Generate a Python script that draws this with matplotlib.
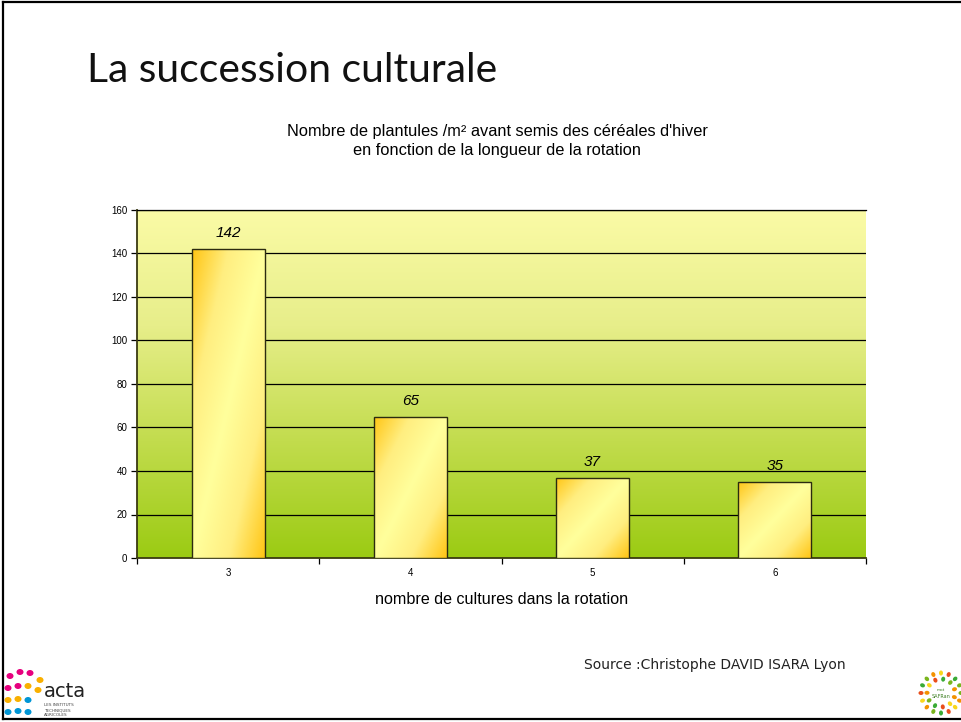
import numpy as np
import matplotlib.pyplot as plt
from matplotlib.patches import Rectangle, Ellipse
from matplotlib.colors import LinearSegmentedColormap

# seedlings per m2 before sowing winter cereals, by number of crops in the rotation
categories = ["3", "4", "5", "6"]
seedlings = [142, 65, 37, 35]
y_ticks = [0, 20, 40, 60, 80, 100, 120, 140, 160]

W, H = 961, 722
fig = plt.figure(figsize=(W / 100, H / 100), dpi=100)
fig.patch.set_facecolor("white")

# slide frame
frame = fig.add_axes([0, 0, 1, 1], zorder=-5)
frame.set_xlim(0, W)
frame.set_ylim(H, 0)
frame.axis("off")
frame.plot([3, 3], [2, 719], color="black", lw=1.6)
frame.plot([3, W], [2, 2], color="black", lw=1.6)
frame.plot([3, W], [719, 719], color="black", lw=1.6)

fig.text(87 / W, 1 - 71 / H, "La succession culturale", family="Lato",
         fontsize=29.4, va="center", ha="left", color="#111111")
fig.text(497 / W, 1 - 141 / H,
         "Nombre de plantules /m² avant semis des céréales d'hiver\n"
         "en fonction de la longueur de la rotation",
         family="Liberation Sans", fontsize=11.8, ha="center", va="center",
         linespacing=1.32)

ax = fig.add_axes([137 / W, 1 - 558 / H, (866 - 137) / W, (558 - 210) / H])
x = np.arange(len(categories))
ax.set_xlim(-0.5, len(categories) - 0.5)
ax.set_ylim(0, 160)

# plot area background: pale yellow at top fading to green at bottom
bg = LinearSegmentedColormap.from_list(
    "bg", ["#9bcb13", "#c2dc4d", "#e7ee8a", "#fbfba6"])
grad = np.linspace(0, 1, 256).reshape(-1, 1)
ax.imshow(grad, cmap=bg, origin="lower", aspect="auto",
          extent=[-0.5, len(categories) - 0.5, 0, 160], zorder=0)

for yv in y_ticks[1:]:
    ax.axhline(yv, color="black", lw=0.9, zorder=1)

# bars with a diagonal orange / pale yellow fill
bar_cmap = LinearSegmentedColormap.from_list("bar", ["#ffff9c", "#ffee80", "#ffc514"])
u, v = np.meshgrid(np.linspace(0, 1, 120), np.linspace(0, 1, 240))
fill = np.clip(np.abs(u + v - 1), 0, 1)
width = 0.4
for xi, val in zip(x, seedlings):
    rect = Rectangle((xi - width / 2, 0), width, val, facecolor="none",
                     edgecolor="#2b2b10", lw=1.0, zorder=4)
    ax.add_patch(rect)
    im = ax.imshow(fill, cmap=bar_cmap, vmin=0, vmax=1, aspect="auto",
                   extent=[xi - width / 2, xi + width / 2, 0, val],
                   interpolation="bilinear", zorder=3)
    im.set_clip_path(rect)
    ax.text(xi, val + 4, str(val), ha="center", va="bottom", style="italic",
            family="Liberation Sans", fontsize=11)

ax.set_xticks(x)
ax.set_xticklabels(categories, family="Liberation Sans", fontsize=7)
ax.set_xticks(np.arange(-0.5, len(categories)), minor=True)
ax.tick_params(axis="x", which="major", length=0, pad=7)
ax.tick_params(axis="x", which="minor", length=4, width=0.9, direction="out")
ax.set_yticks(y_ticks)
ax.set_yticklabels([str(t) for t in y_ticks], family="Liberation Sans", fontsize=7)
ax.tick_params(axis="y", length=4, width=0.9, direction="out", pad=3)

ax.spines["right"].set_visible(False)
ax.spines["top"].set_color("black")
ax.spines["top"].set_linewidth(0.9)
for side in ("left", "bottom"):
    ax.spines[side].set_color("#3a3a10")
    ax.spines[side].set_linewidth(1.3)

ax.set_xlabel("nombre de cultures dans la rotation", family="Liberation Sans",
              fontsize=11.6, labelpad=10)

fig.text(846 / W, 1 - 665 / H, "Source :Christophe DAVID ISARA Lyon",
         family="DejaVu Sans", fontsize=10, ha="right", va="center", color="#222222")

# acta logo (bottom left)
dots = [(10, 676, "#e6007e"), (20, 672, "#e6007e"), (30, 673, "#e6007e"),
        (40, 680, "#f9b000"), (8, 688, "#e6007e"), (18, 686, "#e6007e"),
        (28, 686, "#f9b000"), (38, 690, "#f9b000"), (8, 700, "#f9b000"),
        (18, 699, "#f9b000"), (28, 700, "#0096d6"), (8, 712, "#0096d6"),
        (18, 711, "#0096d6"), (28, 712, "#0096d6")]
for dx, dy, c in dots:
    frame.add_patch(Ellipse((dx, dy), 7, 6, color=c, lw=0))
frame.text(44, 697, "acta", fontsize=14, family="DejaVu Sans",
           color="#222222", va="baseline")
frame.text(44, 705, "LES INSTITUTS", fontsize=3, color="#444444", va="center")
frame.text(44, 710, "TECHNIQUES", fontsize=3, color="#444444", va="center")
frame.text(44, 715, "AGRICOLES", fontsize=3, color="#444444", va="center")

# round leaf logo (bottom right)
leaf_colors = ["#7ab51d", "#f39200", "#f9d71c", "#e94e1b", "#3aaa35"]
cx, cy = 941, 693
for ring, r in enumerate([20, 14]):
    n = 16 if ring == 0 else 11
    for k in range(n):
        a = 2 * np.pi * k / n + ring * 0.3
        frame.add_patch(Ellipse((cx + r * np.cos(a), cy + r * np.sin(a)), 5, 4,
                                angle=np.degrees(a), lw=0,
                                color=leaf_colors[(k + ring) % len(leaf_colors)]))
frame.text(cx, cy - 3, "mot", fontsize=3, ha="center", va="center", color="#3a7d1e")
frame.text(cx, cy + 3, "SAFRan", fontsize=3.5, ha="center", va="center", color="#3a7d1e")

fig.savefig("out.png", dpi=100)
